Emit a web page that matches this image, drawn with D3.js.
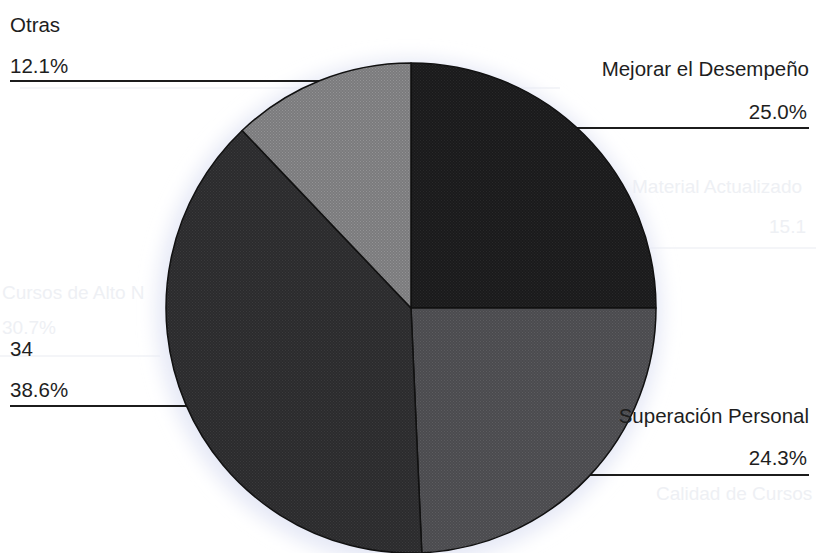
<!DOCTYPE html>
<html>
<head>
<meta charset="utf-8">
<script src="https://cdn.jsdelivr.net/npm/d3@7/dist/d3.min.js"></script>
<style>
  html, body { margin: 0; padding: 0; background: #fff; }
  svg { display: block; }
  text { font-family: Arial, "Liberation Sans", sans-serif; }
</style>
</head>
<body>
<svg id="chart" width="816" height="553"></svg>
<script>
// Motivos para capacitarse: share of responses per category
const categories = ["Mejorar el Desempeño", "Superación Personal", "34", "Otras"];
const percents = [25.0, 24.3, 38.6, 12.1];
const sliceColors = ["#1a1a1b", "#4b4b4e", "#2b2b2d", "#7b7b7d"];
const sliceDots = ["#282829", "#5c5c60", "#3a3a3c", "#939395"];

// Faint lettering showing through from the reverse side of the sheet
const ghostTexts = ["Material Actualizado", "15.1", "Cursos de Alto N", "30.7%", "Calidad de Cursos"];

const W = 816, H = 553;
const cx = 411, cy = 308, R = 245;

const svg = d3.select("#chart");
const defs = svg.append("defs");

// dotted halftone patterns for the slices
sliceColors.forEach((c, i) => {
  const p = defs.append("pattern")
    .attr("id", "pat" + i)
    .attr("width", 3).attr("height", 3)
    .attr("patternUnits", "userSpaceOnUse");
  p.append("rect").attr("width", 3).attr("height", 3).attr("fill", c);
  p.append("rect").attr("x", 0).attr("y", 0).attr("width", 1).attr("height", 1).attr("fill", sliceDots[i]);
  p.append("rect").attr("x", 1.5).attr("y", 1.5).attr("width", 1).attr("height", 1).attr("fill", sliceDots[i]);
});

defs.append("filter").attr("id", "soft")
  .attr("x", "-20%").attr("y", "-20%").attr("width", "140%").attr("height", "140%")
  .append("feGaussianBlur").attr("stdDeviation", 9);

// ghost lettering from the other side of the page
const ghost = svg.append("g").attr("fill", "#eef0f4").attr("font-size", 19);
ghost.append("text").attr("x", 632).attr("y", 193).text(ghostTexts[0]);
ghost.append("text").attr("x", 806).attr("y", 233).attr("text-anchor", "end").text(ghostTexts[1]);
ghost.append("text").attr("x", 2).attr("y", 299).text(ghostTexts[2]);
ghost.append("text").attr("x", 2).attr("y", 334).text(ghostTexts[3]);
ghost.append("text").attr("x", 656).attr("y", 500).text(ghostTexts[4]);
const ghostLines = svg.append("g").attr("stroke", "#f0f2f6").attr("stroke-width", 1.5);
ghostLines.append("line").attr("x1", 20).attr("x2", 560).attr("y1", 88).attr("y2", 88);
ghostLines.append("line").attr("x1", 650).attr("x2", 816).attr("y1", 248).attr("y2", 248);
ghostLines.append("line").attr("x1", 0).attr("x2", 160).attr("y1", 356).attr("y2", 356);

// soft bluish halo around the disc
svg.append("circle")
  .attr("cx", cx - 2).attr("cy", cy + 4).attr("r", R + 8)
  .attr("fill", "#e6e9f6")
  .attr("filter", "url(#soft)");

// label rows: name, value, leader line
const labelLayout = [
  { side: "right", nameY: 76, valY: 119, lineY: 128 },
  { side: "right", nameY: 423, valY: 465, lineY: 475 },
  { side: "left", nameY: 356, valY: 397, lineY: 406 },
  { side: "left", nameY: 32, valY: 73, lineY: 81 }
];

const fmt = d3.format(".1f");
const lines = svg.append("g").attr("stroke", "#1c1c1c").attr("stroke-width", 2);
labelLayout.forEach((L, i) => {
  const x0 = L.side === "right" ? 809 : 10;
  lines.append("line")
    .attr("x1", x0).attr("x2", cx)
    .attr("y1", L.lineY).attr("y2", L.lineY);
});

// pie
const pie = d3.pie().sort(null).value(d => d.v);
const arc = d3.arc().innerRadius(0).outerRadius(R);
const data = categories.map((c, i) => ({ c, v: percents[i], i }));

const g = svg.append("g").attr("transform", `translate(${cx},${cy})`);
g.selectAll("path")
  .data(pie(data))
  .join("path")
  .attr("d", arc)
  .attr("fill", d => `url(#pat${d.data.i})`)
  .attr("stroke", "#111")
  .attr("stroke-width", 1.5)
  .attr("stroke-linejoin", "round");

// labels drawn on top
const labels = svg.append("g").attr("fill", "#1e1e1e").attr("font-size", 20.5);
labelLayout.forEach((L, i) => {
  const right = L.side === "right";
  const x = right ? 809 : 10;
  const anchor = right ? "end" : "start";
  labels.append("text").attr("x", x).attr("y", L.nameY)
    .attr("text-anchor", anchor).text(categories[i]);
  labels.append("text").attr("x", x - (right ? 2 : 0)).attr("y", L.valY)
    .attr("text-anchor", anchor).text(fmt(percents[i]) + "%");
});
</script>
</body>
</html>
